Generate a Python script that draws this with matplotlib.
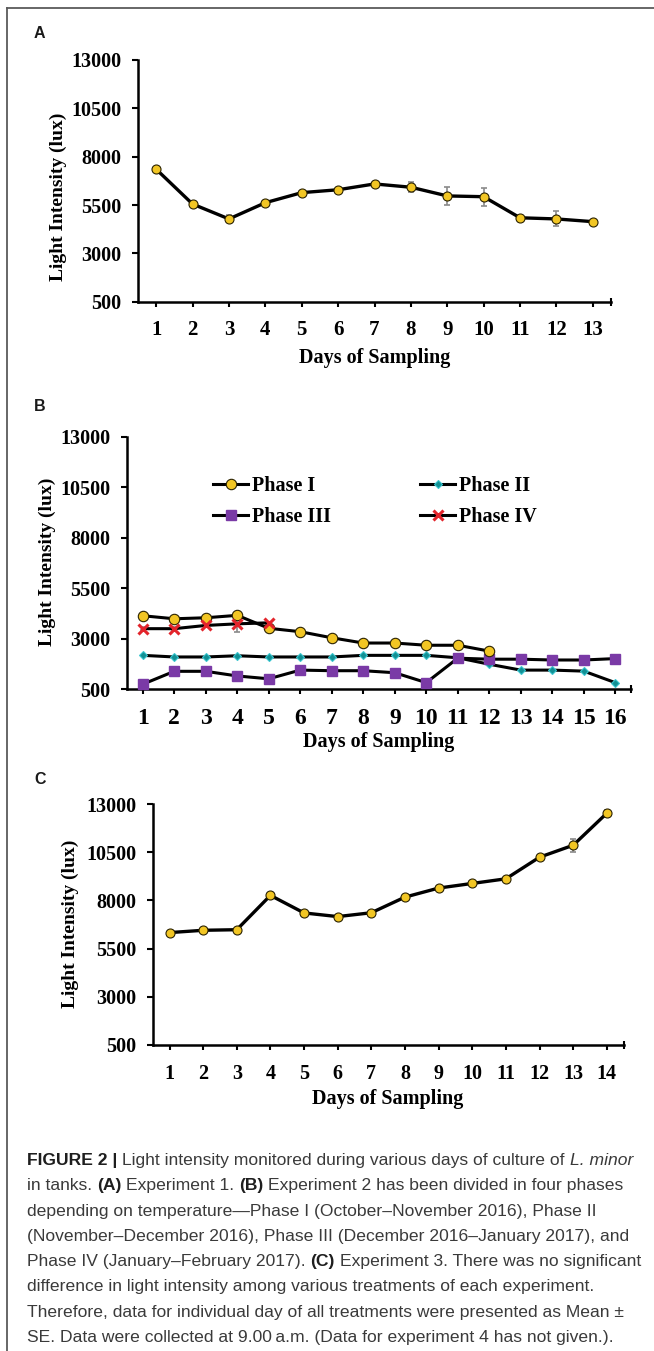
import matplotlib
matplotlib.use("Agg")
import matplotlib.pyplot as plt
from matplotlib.lines import Line2D

W, H = 654, 1351

# Experiment 1 (panel A)
days_a = list(range(1, 14))
light_a = [7350, 5550, 4780, 5620, 6140, 6290, 6590, 6420, 5970, 5930, 4840, 4780, 4640]
err_a = [90, 110, 180, 100, 90, 90, 90, 260, 450, 460, 110, 390, 90]

# Experiment 2 (panel B), four phases
days_b = list(range(1, 17))
phase1 = [4140, 3990, 4040, 4160, 3520, 3350, 3050, 2790, 2790, 2680, 2680, 2390]
phase2 = [2180, 2100, 2100, 2160, 2100, 2100, 2100, 2180, 2180, 2180, 2060, 1740,
          1450, 1450, 1400, 830]
phase3 = [750, 1390, 1390, 1160, 1020, 1450, 1420, 1420, 1320, 830, 2040, 1990,
          1990, 1950, 1950, 2020]
phase4 = [3500, 3500, 3660, 3740, 3790]
err4 = [60, 60, 80, 400, 60]
phase_labels = ["Phase I", "Phase II", "Phase III", "Phase IV"]

# Experiment 3 (panel C)
days_c = list(range(1, 15))
light_c = [6330, 6450, 6480, 8260, 7350, 7160, 7360, 8170, 8640, 8880, 9120,
           10240, 10860, 12520]
err_c = [90, 90, 90, 100, 90, 90, 90, 100, 100, 100, 100, 120, 350, 180]

yticks = [500, 3000, 5500, 8000, 10500, 13000]

caption = [
    [("FIGURE 2 |", "bold", "normal"),
     ("Light intensity monitored during various days of culture of", "normal", "normal"),
     ("L. minor", "normal", "italic")],
    [("in tanks.", "normal", "normal"), ("(A)", "bold", "normal"),
     ("Experiment 1.", "normal", "normal"), ("(B)", "bold", "normal"),
     ("Experiment 2 has been divided in four phases", "normal", "normal")],
    [("depending on temperature\u2014Phase I (October\u2013November 2016), Phase II", "normal", "normal")],
    [("(November\u2013December 2016), Phase III (December 2016\u2013January 2017), and", "normal", "normal")],
    [("Phase IV (January\u2013February 2017).", "normal", "normal"), ("(C)", "bold", "normal"),
     ("Experiment 3. There was no significant", "normal", "normal")],
    [("difference in light intensity among various treatments of each experiment.", "normal", "normal")],
    [("Therefore, data for individual day of all treatments were presented as Mean \u00b1", "normal", "normal")],
    [("SE. Data were collected at 9.00\u2009a.m. (Data for experiment 4 has not given.).", "normal", "normal")],
]

plt.rcParams['font.family'] = ['Liberation Serif', 'DejaVu Serif']
plt.rcParams['font.weight'] = 'bold'

fig = plt.figure(figsize=(W / 100, H / 100), dpi=100)
fig.patch.set_facecolor('white')


def px_axes(left, top, right, bottom):
    return fig.add_axes([left / W, 1 - bottom / H, (right - left) / W, (bottom - top) / H])


def style_axes(ax, days, xsize):
    ax.set_xlim(0.5, len(days) + 0.5)
    ax.set_ylim(500, 13000)
    ax.set_xticks(days)
    ax.set_yticks(yticks)
    for s in ['top', 'right']:
        ax.spines[s].set_visible(False)
    for s in ['left', 'bottom']:
        ax.spines[s].set_linewidth(1.8)
    ax.tick_params(axis='y', direction='out', length=4, width=1.5, pad=8, labelsize=14.5)
    ax.tick_params(axis='x', direction='out', length=3.5, width=1.5, pad=10, labelsize=xsize)
    ax.set_xticks([len(days) + 0.5], minor=True)
    ax.tick_params(axis='x', which='minor', direction='inout', length=6, width=1.5)


def fig_text(x, y, s, **kw):
    return fig.text(x / W, 1 - y / H, s, **kw)


yellow = dict(marker='o', mfc='#F2C624', mec='#2b2200', mew=0.8)

# ---- panel A
ax_a = px_axes(138, 60, 611, 301.7)
style_axes(ax_a, days_a, 15)
ax_a.errorbar(days_a, light_a, yerr=err_a, fmt='none', ecolor='#8a8a8a',
              elinewidth=1.2, capsize=2.5, capthick=1.2, zorder=2)
ax_a.plot(days_a, light_a, color='black', lw=2.4, ms=6.5, zorder=3, **yellow)

# ---- panel B
ax_b = px_axes(127, 436.7, 631, 689.3)
style_axes(ax_b, days_b, 17)
ax_b.errorbar(days_b[:len(phase4)], phase4, yerr=err4, fmt='none', ecolor='#8a8a8a',
              elinewidth=1.2, capsize=2.5, capthick=1.2, zorder=2)
l1, = ax_b.plot(days_b[:len(phase1)], phase1, color='black', lw=2.2, ms=7.5,
                zorder=4, clip_on=False, **yellow)
l2, = ax_b.plot(days_b, phase2, color='black', lw=2.2, marker='D', ms=4,
                mfc='#128f93', mec='#39c6d0', mew=0.8, zorder=3, clip_on=False)
l3, = ax_b.plot(days_b, phase3, color='black', lw=2.2, marker='s', ms=6.5,
                mfc='#7a3aa6', mec='#7a3aa6', zorder=3, clip_on=False)
l4, = ax_b.plot(days_b[:len(phase4)], phase4, color='black', lw=2.2, marker='x',
                ms=6.5, mec='#e3242b', mew=2.2, zorder=5, clip_on=False)
ax_b.legend([l1, l3, l2, l4],
            [phase_labels[0], phase_labels[2], phase_labels[1], phase_labels[3]],
            ncol=2, frameon=False, loc='upper left',
            bbox_to_anchor=(213 / W, 1 - 476 / H), bbox_transform=fig.transFigure,
            borderpad=0, borderaxespad=0, handlelength=1.75, handletextpad=0.2,
            columnspacing=4.4, labelspacing=0.55,
            prop={'family': 'Liberation Serif', 'weight': 'bold', 'size': 14.5})

# ---- panel C
ax_c = px_axes(152.7, 804, 623.6, 1045)
style_axes(ax_c, days_c, 14.5)
ax_c.errorbar(days_c, light_c, yerr=err_c, fmt='none', ecolor='#8a8a8a',
              elinewidth=1.2, capsize=2.5, capthick=1.2, zorder=2)
ax_c.plot(days_c, light_c, color='black', lw=2.4, ms=6.5, zorder=3, **yellow)

# axis titles and panel letters
ylab = dict(rotation=90, ha='center', va='center', size=14, weight='bold')
fig_text(58, 197, 'Light Intensity (lux)', **ylab)
fig_text(47, 562, 'Light Intensity (lux)', **ylab)
fig_text(70, 924, 'Light Intensity (lux)', **ylab)
xlab = dict(ha='center', va='center', size=14.5, weight='bold')
fig_text(374.5, 358, 'Days of Sampling', **xlab)
fig_text(379, 742, 'Days of Sampling', **xlab)
fig_text(388, 1099, 'Days of Sampling', **xlab)
for letter, y in [('A', 33), ('B', 407), ('C', 780)]:
    fig_text(34, y, letter, family='Liberation Sans', weight='bold', size=11.5,
             va='center', ha='left', color='#1a1a1a')

# frame around the figure (only top and left edges fall inside the image)
fig.add_artist(Line2D([7 / W, 7 / W], [0, 1 - 8 / H], transform=fig.transFigure,
                      color='#5a5a5a', lw=1.3))
fig.add_artist(Line2D([7 / W, 1], [1 - 8 / H, 1 - 8 / H], transform=fig.transFigure,
                      color='#5a5a5a', lw=1.3))

# caption, drawn piece by piece so bold/italic runs can sit inline
fig.canvas.draw()
renderer = fig.canvas.get_renderer()


def width_of(s, size, weight, style):
    t = fig.text(0, 0, s, family='Liberation Sans', size=size, weight=weight, style=style)
    w = t.get_window_extent(renderer).width
    t.remove()
    return w


def line_width(parts, size):
    sp = width_of('a a', size, 'normal', 'normal') - width_of('aa', size, 'normal', 'normal')
    return sum(width_of(s, size, w, st) for s, w, st in parts) + sp * (len(parts) - 1)


cap_size = 11.0
cap_size *= 604 / line_width(caption[0], cap_size)
space = width_of('a a', cap_size, 'normal', 'normal') - width_of('aa', cap_size, 'normal', 'normal')

x0, y0, step = 27, 1165, 25.3
for i, parts in enumerate(caption):
    x = x0
    for s, w, st in parts:
        col = '#1e1e1e' if w == 'bold' else '#3a3a3a'
        fig_text(x, y0 + i * step, s, family='Liberation Sans', size=cap_size,
                 weight=w, style=st, color=col, va='baseline', ha='left')
        x += width_of(s, cap_size, w, st) + space

fig.savefig('out.png', dpi=100, facecolor='white')
